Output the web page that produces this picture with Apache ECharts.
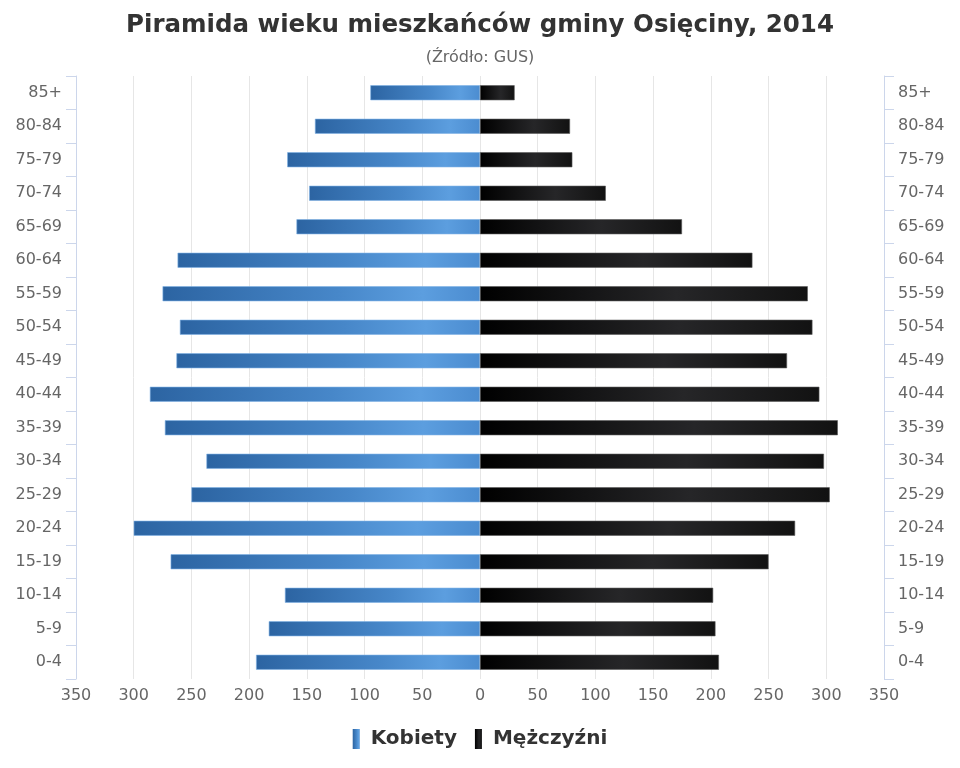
<!DOCTYPE html>
<html>
<head>
    <meta charset="utf-8" />
    <title>Piramida wieku</title>
    <style type="text/css">
        html,body{margin:0;padding:0;background-color:#fff;}
        #pyramid{width:960px;height:768px;}
    </style>
</head>
<body>
<div id="pyramid"></div>
<script src="https://cdn.jsdelivr.net/npm/echarts@6/dist/echarts.min.js"></script>
<script>
    // grupy wieku od dołu do góry
    var ageGroups = ['0-4','5-9','10-14','15-19','20-24','25-29','30-34','35-39','40-44',
        '45-49','50-54','55-59','60-64','65-69','70-74','75-79','80-84','85+'];
    var kobiety = [194,183,169,268,300,250,237,273,286,263,260,275,262,159,148,167,143,95];
    var mezczyzni = [207,204,202,250,273,303,298,310,294,266,288,284,236,175,109,80,78,30];

    var fontName = '"DejaVu Sans", sans-serif';
    var chart = echarts.init(document.getElementById('pyramid'));

    var blue = new echarts.graphic.LinearGradient(0, 0, 1, 0, [
        {offset: 0, color: '#2c64a2'},
        {offset: 0.55, color: '#4787c9'},
        {offset: 0.82, color: '#5c9edf'},
        {offset: 1, color: '#4b8cd0'}
    ]);
    var black = new echarts.graphic.LinearGradient(0, 0, 1, 0, [
        {offset: 0, color: '#000000'},
        {offset: 0.6, color: '#262628'},
        {offset: 1, color: '#121212'}
    ]);

    var catAxis = function (pos) {
        return {
            type: 'category',
            position: pos,
            data: ageGroups,
            axisLine: {show: true, onZero: false, lineStyle: {color: '#ccd6eb'}},
            axisTick: {show: true, length: 10, lineStyle: {color: '#ccd6eb'}},
            axisLabel: {
                margin: 14,
                color: '#666666',
                fontSize: 16,
                fontFamily: fontName
            },
            splitLine: {show: false}
        };
    };

    chart.setOption({
        animation: false,
        title: [{
            text: 'Piramida wieku mieszkańców gminy Osięciny, 2014',
            left: 'center',
            top: 8,
            textStyle: {fontSize: 24.5, fontWeight: 'bold', color: '#333333', fontFamily: fontName}
        }, {
            text: '(Źródło: GUS)',
            left: 'center',
            top: 45,
            textStyle: {fontSize: 16, fontWeight: 'normal', color: '#666666', fontFamily: fontName}
        }],
        legend: {
            bottom: 14,
            left: 'center',
            itemWidth: 7,
            itemHeight: 20,
            itemGap: 18,
            icon: 'rect',
            itemStyle: {borderWidth: 0},
            textStyle: {fontSize: 20, fontWeight: 'bold', color: '#333333', fontFamily: fontName,
                padding: [0, 0, 0, 6]},
            data: ['Kobiety', 'Mężczyźni']
        },
        grid: {left: 76, right: 76, top: 76, bottom: 89, containLabel: false},
        xAxis: {
            type: 'value',
            min: -350,
            max: 350,
            interval: 50,
            axisLine: {show: false},
            axisTick: {show: false},
            axisLabel: {
                margin: 9,
                color: '#666666',
                fontSize: 16,
                fontFamily: fontName,
                formatter: function (v) { return Math.abs(v); }
            },
            splitLine: {show: true, lineStyle: {color: '#e6e6e6'}}
        },
        yAxis: [catAxis('left'), catAxis('right')],
        series: [
            {
                name: 'Kobiety',
                type: 'bar',
                stack: 'razem',
                barWidth: 15,
                data: kobiety.map(function (v) { return -v; }),
                itemStyle: {color: blue, borderColor: '#7fb2e6', borderWidth: 0.6}
            },
            {
                name: 'Mężczyźni',
                type: 'bar',
                stack: 'razem',
                barWidth: 15,
                data: mezczyzni,
                itemStyle: {color: black, borderColor: '#5a5a5a', borderWidth: 0.6}
            }
        ]
    });
</script>
</body>
</html>
